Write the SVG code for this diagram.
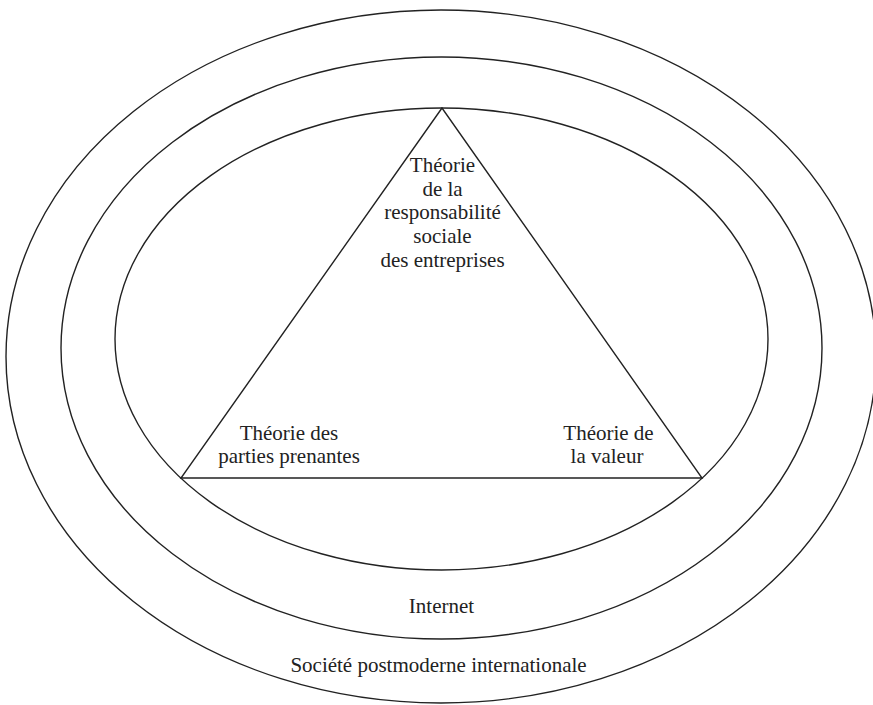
<svg xmlns="http://www.w3.org/2000/svg" width="873" height="705" viewBox="0 0 873 705">
<style>
.ln{fill:none;stroke:#222;stroke-width:1.4}
.t{font-family:"Liberation Serif","Times New Roman",serif;font-size:21px;fill:#222;text-anchor:middle}
</style>
<rect width="873" height="705" fill="#fff"/>
<g id="outer">
<ellipse class="ln" cx="441" cy="356.5" rx="435" ry="346.5"/>
<text class="t" x="438.5" y="672">Société postmoderne internationale</text>
</g>
<g id="internet">
<ellipse class="ln" cx="441.5" cy="348" rx="380.5" ry="291"/>
<text class="t" x="441.5" y="613">Internet</text>
</g>
<g id="inner">
<ellipse class="ln" cx="441.5" cy="339" rx="326.5" ry="231"/>
</g>
<g id="connectors">
<polygon class="ln" points="442,108 181,478 702,478"/>
</g>
<g id="rse">
<text class="t" x="442.5" y="172">Théorie</text>
<text class="t" x="442.5" y="196">de la</text>
<text class="t" x="442.5" y="219">responsabilité</text>
<text class="t" x="442.5" y="243">sociale</text>
<text class="t" x="442.5" y="267">des entreprises</text>
</g>
<g id="parties">
<text class="t" x="289" y="440">Théorie des</text>
<text class="t" x="289" y="463">parties prenantes</text>
</g>
<g id="valeur">
<text class="t" x="608.5" y="440">Théorie de</text>
<text class="t" x="607" y="463">la valeur</text>
</g>
</svg>
